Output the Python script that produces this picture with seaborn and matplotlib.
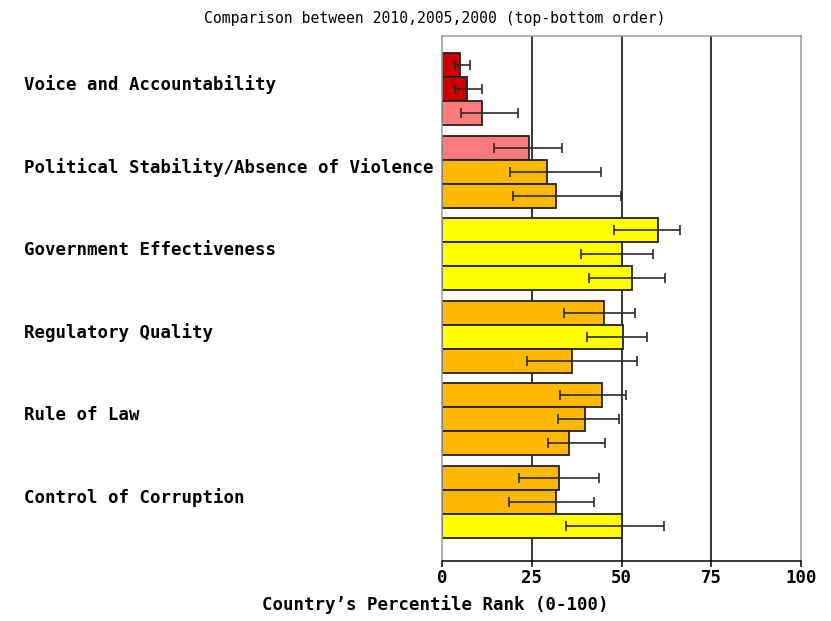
import matplotlib
matplotlib.use("Agg")
import matplotlib.pyplot as plt
import matplotlib.transforms as mtransforms
import numpy as np
import pandas as pd
import seaborn as sns

# Governance indicators, percentile ranks for 2010, 2005, 2000 (top to bottom)
categories = [
    "Voice and Accountability",
    "Political Stability/Absence of Violence",
    "Government Effectiveness",
    "Regulatory Quality",
    "Rule of Law",
    "Control of Corruption",
]
years = ["2010", "2005", "2000"]

rank_2010 = [4.9, 24.1, 60.1, 45.0, 44.6, 32.5]
rank_2005 = [7.0, 29.2, 50.0, 50.4, 39.9, 31.7]
rank_2000 = [11.2, 31.7, 52.9, 36.2, 35.4, 50.0]

low_2010 = [3.6, 14.4, 47.8, 34.1, 32.9, 21.5]
low_2005 = [3.6, 19.0, 38.7, 40.3, 32.4, 18.7]
low_2000 = [5.3, 19.9, 40.9, 23.7, 29.5, 34.6]

high_2010 = [7.9, 33.3, 66.2, 53.8, 51.3, 43.8]
high_2005 = [11.2, 44.2, 58.7, 57.1, 49.2, 42.4]
high_2000 = [21.3, 49.8, 62.2, 54.3, 45.4, 61.7]

x_ticks = [0, 25, 50, 75, 100]

# percentile band colours
band_edges = [10, 25, 50, 75, 90]
band_colors = ["#CC0000", "#FF7B7B", "#FFB800", "#FFFF00", "#7FCC7F", "#009900"]


def band_color(v):
    return band_colors[int(np.searchsorted(band_edges, v, side="right"))]


ranks = {"2010": rank_2010, "2005": rank_2005, "2000": rank_2000}
lows = {"2010": low_2010, "2005": low_2005, "2000": low_2000}
highs = {"2010": high_2010, "2005": high_2005, "2000": high_2000}

df = pd.DataFrame(
    [
        {"indicator": c, "year": y, "rank": ranks[y][i]}
        for y in years
        for i, c in enumerate(categories)
    ]
)

W, H, DPI = 831, 621, 100
fig = plt.figure(figsize=(W / DPI, H / DPI), dpi=DPI)
ax = fig.add_axes([442 / W, 1 - 561 / H, (801 - 442) / W, (561 - 36) / H])

sns.barplot(
    data=df,
    y="indicator",
    x="rank",
    hue="year",
    hue_order=years,
    order=categories,
    orient="h",
    width=0.873,
    dodge=True,
    errorbar=None,
    palette=["#FFFFFF"] * 3,
    edgecolor="#222222",
    linewidth=1.3,
    legend=False,
    ax=ax,
    zorder=2,
)

# recolour each bar by its percentile band and attach the confidence range
for yr, container in zip(years, ax.containers):
    centers = []
    for bar, v in zip(container, ranks[yr]):
        bar.set_facecolor(band_color(v))
        centers.append(bar.get_y() + bar.get_height() / 2)
    vals = np.array(ranks[yr])
    lo = vals - np.array(lows[yr])
    hi = np.array(highs[yr]) - vals
    ax.errorbar(
        vals,
        centers,
        xerr=[lo, hi],
        fmt="none",
        ecolor="#2a2a2a",
        elinewidth=1.2,
        capsize=3.3,
        capthick=1.2,
        zorder=3,
    )

ax.set_xlim(0, 100)
ax.set_ylim(5.718, -0.646)
ax.set_xticks(x_ticks)
ax.set_xticklabels([str(t) for t in x_ticks], fontfamily="DejaVu Sans Mono",
                   fontweight="bold", fontsize=12.5)
ax.set_yticks([])
ax.set_ylabel("")
ax.set_xlabel("")

for t in [25, 50, 75]:
    ax.axvline(t, color="black", lw=1.1, zorder=1)

for side in ["left", "top", "right"]:
    ax.spines[side].set_color("#999999")
    ax.spines[side].set_linewidth(1.1)
ax.spines["bottom"].set_color("black")
ax.spines["bottom"].set_linewidth(1.1)
ax.tick_params(axis="x", direction="out", length=4, width=1.1, color="black", pad=2)
ax.set_facecolor("white")

mono = "DejaVu Sans Mono"
trans = mtransforms.blended_transform_factory(fig.transFigure, ax.transData)
for i, c in enumerate(categories):
    ax.text(24 / W, i - 0.055, c, transform=trans, ha="left", va="center",
            fontfamily=mono, fontweight="bold", fontsize=12.5, clip_on=False)

fig.text(435 / W, 1 - 18 / H, "Comparison between 2010,2005,2000 (top-bottom order)",
         ha="center", va="center", fontfamily=mono, fontsize=10.65)
fig.text(435 / W, 1 - 605 / H, "Country\u2019s Percentile Rank (0-100)",
         ha="center", va="center", fontfamily=mono, fontweight="bold", fontsize=12.5)

fig.savefig("out.png", dpi=DPI, facecolor="white")
